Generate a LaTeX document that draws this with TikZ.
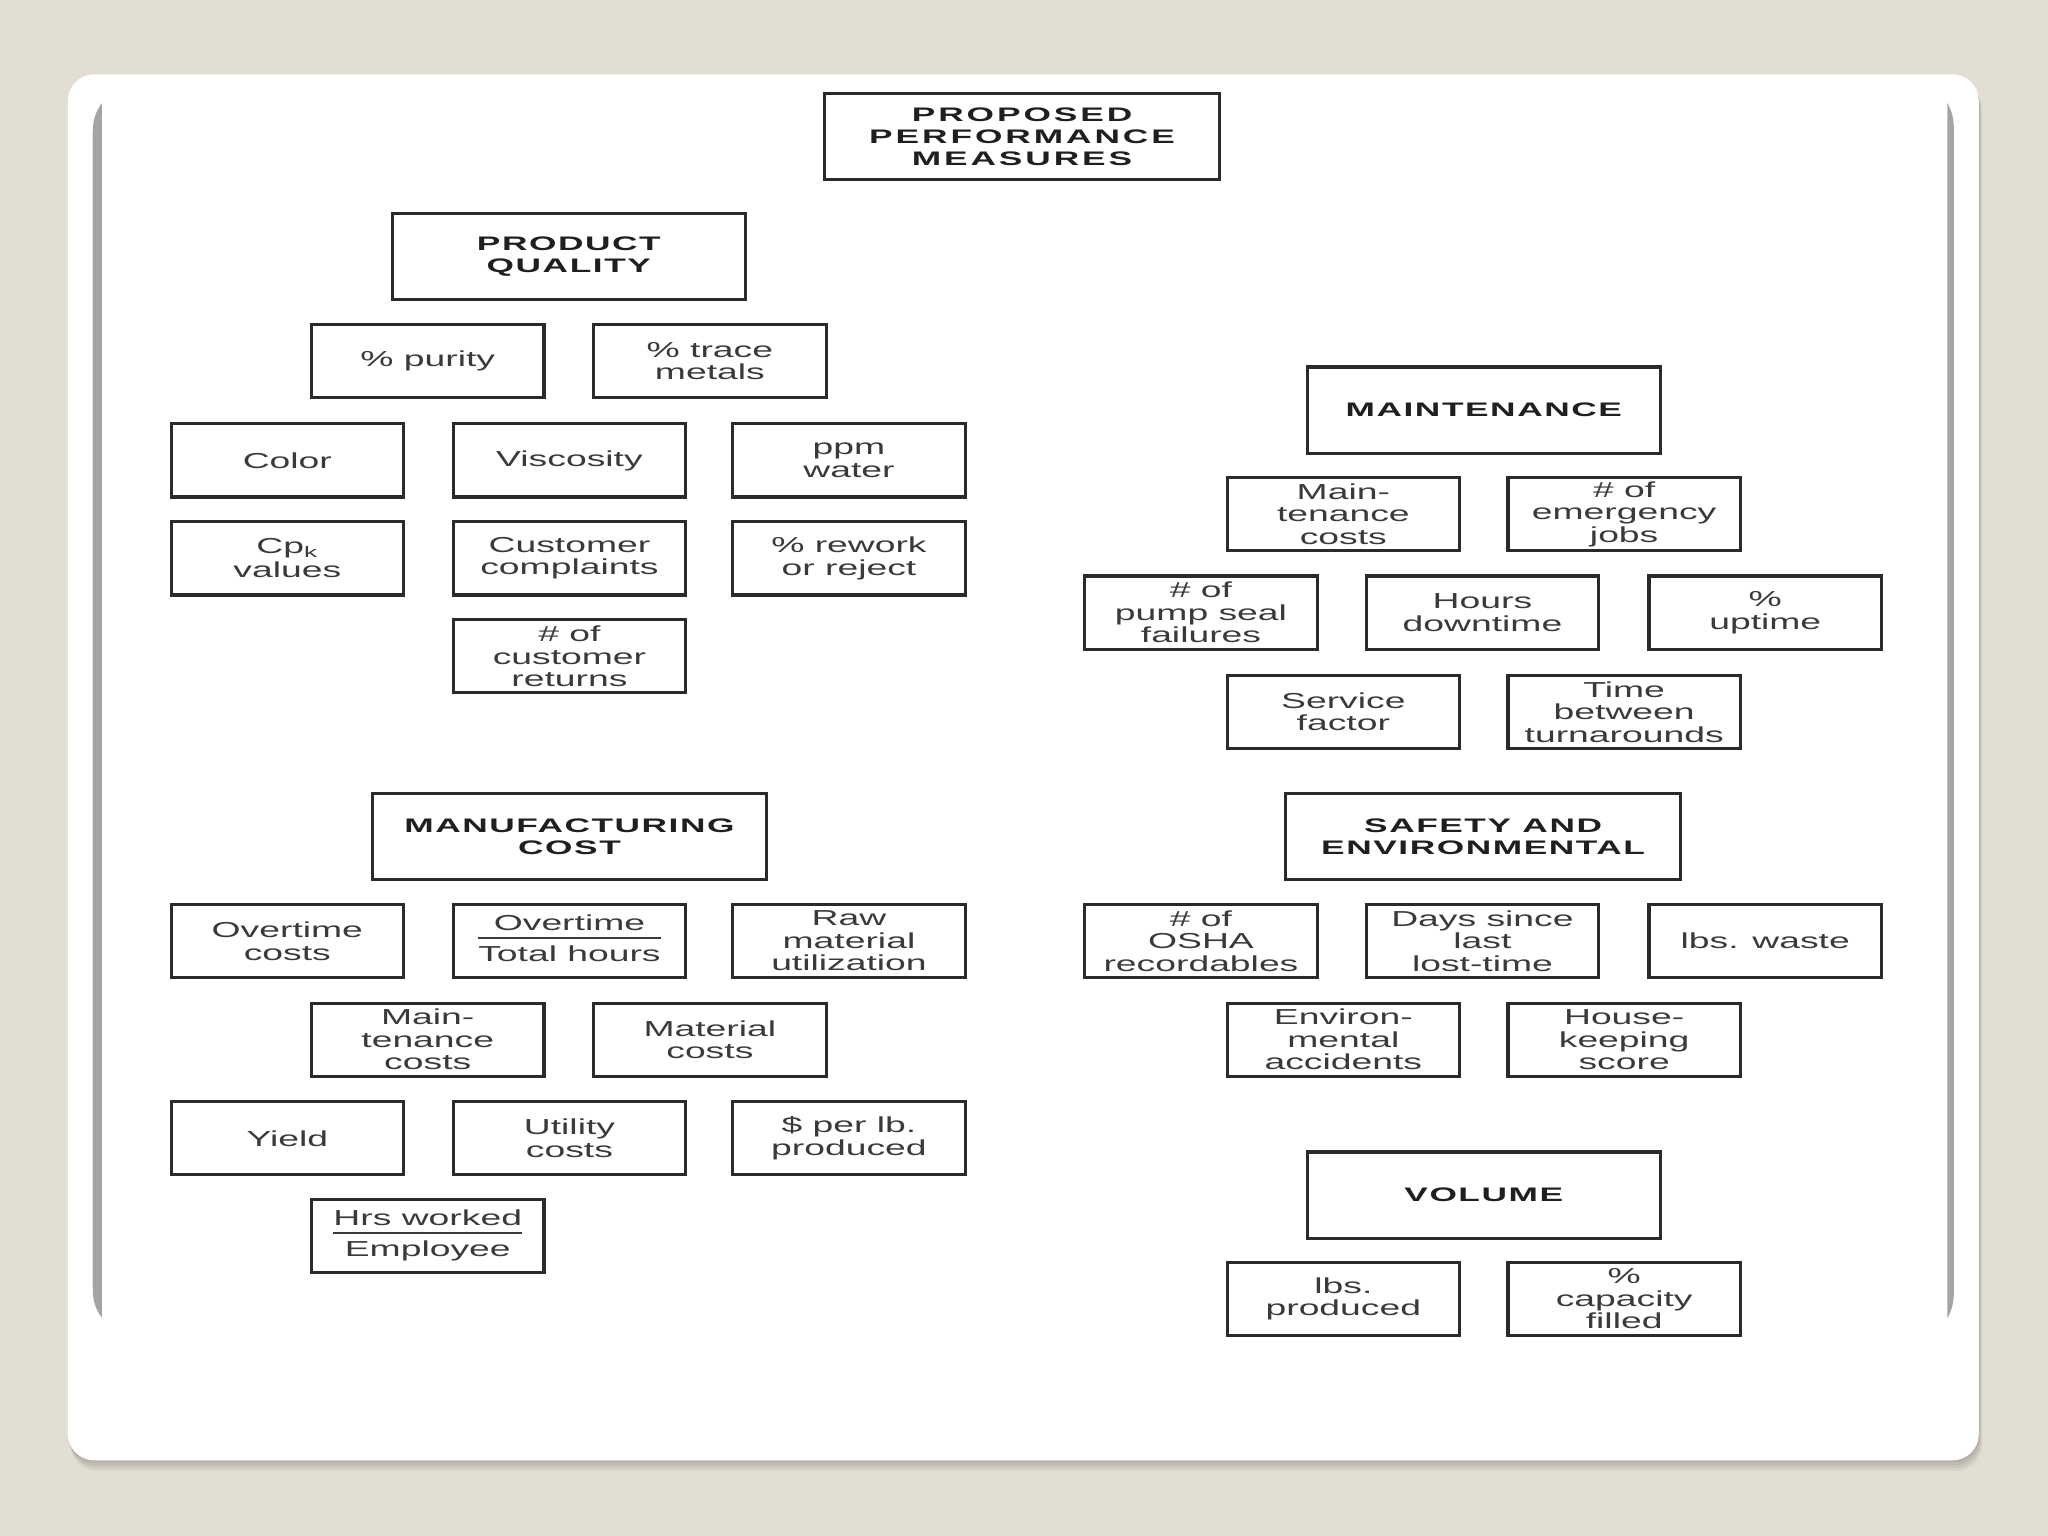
\documentclass[tikz,border=0pt]{standalone}
\usepackage{fontspec}
\usepackage{xcolor}
\usepackage{tikz}
\usetikzlibrary{shadows}
\setmainfont{Liberation Sans}
\newfontfamily\boxfont[FakeStretch=1.72]{Liberation Sans}
\newfontfamily\headfont[FakeStretch=1.8,LetterSpace=8]{Liberation Sans}
\newfontfamily\titlefont[FakeStretch=1.8,LetterSpace=15]{Liberation Sans}
\definecolor{slidebg}{HTML}{E2DED3}
\definecolor{bargray}{HTML}{A4A4A4}
\definecolor{boxline}{HTML}{2A2A2A}
\definecolor{boxtext}{HTML}{3A3A3A}
\setlength{\arrayrulewidth}{0.9pt}
% ratio text: numerator over a rule over denominator
\newcommand{\ratio}[2]{\begin{tabular}{@{}c@{}}#1\\\hline\rule{0pt}{8.4pt}#2\end{tabular}}

\begin{document}
\begin{tikzpicture}[x=0.5pt,y=-0.5pt,
  mbox/.style={draw=boxline, line width=1.2pt, fill=white, inner sep=0pt,
    minimum width=89pt, minimum height=28pt, align=center, text=boxtext,
    font=\boxfont\fontsize{8.3}{8.6}\selectfont,
    drop shadow={shadow xshift=0.6pt, shadow yshift=-0.6pt, fill=black!40, opacity=0.6}},
  hbox/.style={mbox, minimum width=135pt, minimum height=33pt, text=black!88,
    font=\headfont\bfseries\fontsize{7.5}{8.5}\selectfont},
  wbox/.style={hbox, minimum width=151pt}]
% slide frame -- all coordinates in reference pixels
\useasboundingbox (0,0) rectangle (1568,1176);
\fill[slidebg] (0,0) rectangle (1568,1176);
\foreach \s in {2,4,6,8}
  \fill[black, opacity=0.05, rounded corners=10pt] ({52+0.3*\s},{57+\s}) rectangle ({1515+0.3*\s},{1118+\s});
\fill[white, rounded corners=10pt] (52,57) rectangle (1515,1118);
\fill[bargray] (78,79) -- (78,1009) .. controls (73,1002) and (71,996) .. (71,986)
  -- (71,102) .. controls (71,92) and (73,86) .. (78,79) -- cycle;
\fill[bargray] (1491,79) -- (1491,1009) .. controls (1495,1002) and (1496,996) .. (1496,986)
  -- (1496,102) .. controls (1496,92) and (1495,86) .. (1491,79) -- cycle;

% 1. Top box and group headers
\node[wbox, font=\titlefont\bfseries\fontsize{7.5}{8.5}\selectfont] (top) at (782.5,104.5) {PROPOSED\\PERFORMANCE\\MEASURES};
\node[hbox] (pq)  at (435.5,196.5) {PRODUCT\\QUALITY};
\node[wbox] (mc)  at (436,640.5)   {MANUFACTURING\\COST};
\node[hbox] (mt)  at (1136,314)    {MAINTENANCE};
\node[wbox] (se)  at (1135.5,640.5) {SAFETY AND\\ENVIRONMENTAL};
\node[hbox] (vol) at (1136,915)    {VOLUME};

% 2. Product quality measures
\foreach \n/\x/\y/\t in {
  pqa/327.5/276.5/{\% purity}, pqb/543.5/276.5/{\% trace\\metals},
  pqc/220/352.5/{Color}, pqd/436/352.5/{Viscosity}, pqe/650/352.5/{ppm\\water},
  pqf/220/427.5/{Cp\textsubscript{k}\\[0.6pt]values}, pqg/436/427.5/{Customer\\complaints}, pqh/650/427.5/{\% rework\\or reject},
  pqi/436/502.5/{\# of\\customer\\returns}}
  \node[mbox] (\n) at (\x,\y) {\t};

% 3. Manufacturing cost measures
\foreach \n/\x/\y/\t in {
  mca/220/720.5/{Overtime\\costs}, mcb/436/720.5/{\ratio{Overtime}{Total hours}}, mcc/650/720.5/{Raw\\material\\utilization},
  mcd/327.5/796/{Main-\\tenance\\costs}, mce/543.5/796/{Material\\costs},
  mcf/220/871.5/{Yield}, mcg/436/871.5/{Utility\\costs}, mch/650/871.5/{\$ per lb.\\produced},
  mci/327.5/946.5/{\ratio{Hrs worked}{Employee}}}
  \node[mbox] (\n) at (\x,\y) {\t};

% 4. Maintenance measures
\foreach \n/\x/\y/\t in {
  mta/1028.5/393.5/{Main-\\tenance\\costs}, mtb/1243.5/393.5/{\# of\\emergency\\jobs},
  mtc/919.5/469/{\# of\\pump seal\\failures}, mtd/1135/469/{Hours\\downtime}, mte/1351.5/469/{\%\\uptime},
  mtf/1028.5/545/{Service\\factor}, mtg/1243.5/545/{Time\\between\\turnarounds}}
  \node[mbox] (\n) at (\x,\y) {\t};

% 5. Safety and environmental, volume
\foreach \n/\x/\y/\t in {
  sea/919.5/720.5/{\# of\\OSHA\\recordables}, seb/1135/720.5/{Days since\\last\\lost-time}, sec/1351.5/720.5/{lbs. waste},
  sed/1028.5/796/{Environ-\\mental\\accidents}, see/1243.5/796/{House-\\keeping\\score},
  vola/1028.5/994.5/{lbs.\\produced}, volb/1243.5/994.5/{\%\\capacity\\filled}}
  \node[mbox] (\n) at (\x,\y) {\t};
\end{tikzpicture}
\end{document}
